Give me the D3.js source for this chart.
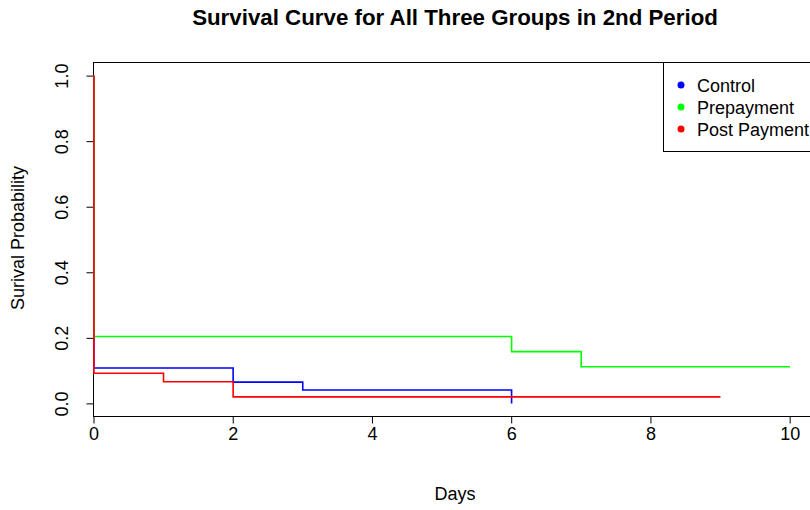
<!DOCTYPE html>
<html><head><meta charset="utf-8">
<script src="https://cdn.jsdelivr.net/npm/d3@7"></script>
<style>body{margin:0;background:#fff}svg{display:block}text{font-family:"Liberation Sans",Arial,sans-serif}</style>
</head><body><svg id="c" width="810" height="510"></svg>
<script>
const title = "Survival Curve for All Three Groups in 2nd Period";
const xLabel = "Days";
const yLabel = "Surival Probability";
const xTicks = [0, 2, 4, 6, 8, 10];
const yTicks = [0.0, 0.2, 0.4, 0.6, 0.8, 1.0];
const groups = ["Control", "Prepayment", "Post Payment"];
const colors = ["#0000ff", "#00ff00", "#ff0000"];
// step survival curves: times and survival after each time
const controlTimes = [0, 0, 2, 3, 6];
const controlSurv  = [1.0, 0.108, 0.065, 0.041, 0.0];
const prepayTimes  = [0, 0, 6, 7, 10];
const prepaySurv   = [1.0, 0.204, 0.158, 0.112, 0.112];
const postTimes    = [0, 0, 1, 2, 9];
const postSurv     = [1.0, 0.092, 0.066, 0.020, 0.020];

const series = [
  {name: groups[0], color: colors[0], t: controlTimes, s: controlSurv},
  {name: groups[1], color: colors[1], t: prepayTimes, s: prepaySurv},
  {name: groups[2], color: colors[2], t: postTimes, s: postSurv}
];

const svg = d3.select("#c");
const L = 93, R = 817, T = 62, B = 416;
const x = d3.scaleLinear().domain([0, 10.4]).range([L, R]);
const y = d3.scaleLinear().domain([-0.04, 1.04]).range([B, T]);
const FS = 18;

// box
svg.append("rect").attr("x", L + 0.5).attr("y", T + 0.5).attr("width", R - L).attr("height", B - T)
  .attr("fill", "none").attr("stroke", "#000").attr("stroke-width", 1);

// x axis
const xa = svg.append("g").attr("transform", `translate(0.5,${B + 0.5})`)
  .call(d3.axisBottom(x).tickValues(xTicks).tickSize(7).tickPadding(4).tickFormat(d3.format("d")));
xa.select(".domain").attr("d", `M${x(0)},0H${x(10)}`);
xa.selectAll("text").attr("font-size", FS).attr("fill", "#000").style("font-family", "Liberation Sans, Arial");

// y axis
const ya = svg.append("g").attr("transform", `translate(${L + 0.5},0.5)`)
  .call(d3.axisLeft(y).tickValues(yTicks).tickSize(7).tickFormat(d3.format(".1f")));
ya.select(".domain").attr("d", `M0,${y(0)}V${y(1)}`);
ya.selectAll("text").attr("font-size", FS).attr("fill", "#000")
  .attr("text-anchor", "middle").attr("x", 0).attr("dy", 0)
  .attr("transform", "translate(-32,0) rotate(-90)").attr("dominant-baseline", "central")
  .style("font-family", "Liberation Sans, Arial");

// series (drawn over the box)
const line = d3.line().x(d => x(d[0])).y(d => y(d[1])).curve(d3.curveStepAfter);
const lg0 = svg.append("g").attr("transform", "translate(0.9,0.5)");
series.forEach(sr => {
  const pts = sr.t.map((t, i) => [t, sr.s[i]]);
  lg0.append("path").attr("d", line(pts)).attr("fill", "none")
    .attr("stroke", sr.color).attr("stroke-width", 1.6).attr("stroke-linecap", "butt");
});

// title
svg.append("text").attr("x", 455).attr("y", 25).attr("text-anchor", "middle")
  .attr("font-size", 22.3).attr("font-weight", "bold").text(title);
svg.append("text").attr("x", 455).attr("y", 500).attr("text-anchor", "middle")
  .attr("font-size", FS).text(xLabel);
svg.append("text").attr("transform", "translate(24,238) rotate(-90)").attr("text-anchor", "middle")
  .attr("font-size", FS).text(yLabel);

// legend
const lg = svg.append("g");
lg.append("rect").attr("x", 663.5).attr("y", 62.5).attr("width", 160).attr("height", 89)
  .attr("fill", "#fff").attr("stroke", "#000");
series.forEach((sr, i) => {
  const yy = 86 + i * 22;
  lg.append("circle").attr("cx", 681).attr("cy", yy - 1).attr("r", 3.5).attr("fill", sr.color);
  lg.append("text").attr("x", 697).attr("y", yy + 6).attr("font-size", FS).text(sr.name);
});
</script></body></html>
